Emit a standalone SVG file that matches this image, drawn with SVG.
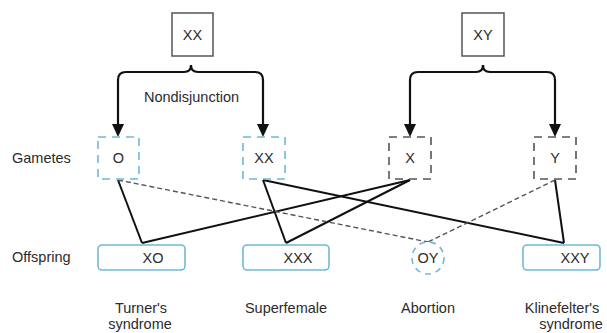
<svg xmlns="http://www.w3.org/2000/svg" width="607" height="333" viewBox="0 0 607 333">
  <style>
    text { font-family: "Liberation Sans", Arial, sans-serif; font-size: 14.5px; fill: #2b2b2b; }
    .mid { text-anchor: middle; }
    .parent { fill: #fff; stroke: #555; stroke-width: 1.5; }
    .gam-blue { fill: none; stroke: #6fb9d6; stroke-width: 1.6; stroke-dasharray: 8 6; }
    .gam-gray { fill: none; stroke: #555; stroke-width: 1.6; stroke-dasharray: 8 6; }
    .off { fill: #fff; stroke: #6fb9d6; stroke-width: 1.6; }
    .off-dash { fill: #fff; stroke: #6fb9d6; stroke-width: 1.6; stroke-dasharray: 6 5; }
    .brace { fill: none; stroke: #111; stroke-width: 2.2; stroke-linejoin: round; marker-end: url(#head); }
    .cross { fill: none; stroke: #111; stroke-width: 2; }
    .cross-dash { fill: none; stroke: #555; stroke-width: 1.4; stroke-dasharray: 5 3; }
  </style>
  <defs>
    <marker id="head" viewBox="0 0 13 12" refX="1" refY="6" markerWidth="13" markerHeight="12" markerUnits="userSpaceOnUse" orient="auto">
      <path d="M0,0 L13,6 L0,12 Z" fill="#111"/>
    </marker>
  </defs>

  <!-- row labels -->
  <text x="12" y="163">Gametes</text>
  <text x="12" y="262">Offspring</text>

  <!-- connectors -->
  <g id="connectors">
    <!-- meiosis brackets: each half of a brace runs from the parent down to one gamete -->
    <path class="brace" d="M191,65 Q191,72 184,72 H126 Q118,72 118,80 V125"/>
    <path class="brace" d="M191,65 Q191,72 198,72 H255 Q263,72 263,80 V125"/>
    <path class="brace" d="M483,65 Q483,72 476,72 H418 Q410,72 410,80 V125"/>
    <path class="brace" d="M483,65 Q483,72 490,72 H547 Q555,72 555,80 V125"/>

    <!-- fertilisation lines -->
    <line class="cross" x1="118" y1="180" x2="142" y2="243"/>
    <line class="cross" x1="410" y1="180" x2="142" y2="243"/>
    <line class="cross" x1="263" y1="180" x2="286" y2="243"/>
    <line class="cross" x1="410" y1="180" x2="286" y2="243"/>
    <line class="cross" x1="263" y1="180" x2="564" y2="243"/>
    <line class="cross" x1="555" y1="180" x2="564" y2="243"/>
    <line class="cross-dash" x1="118" y1="180" x2="428" y2="242"/>
    <line class="cross-dash" x1="555" y1="180" x2="428" y2="242"/>
  </g>

  <!-- parents -->
  <g id="parent-xx">
    <rect class="parent" x="172" y="13" width="41" height="43"/>
    <text class="mid" x="192.5" y="40">XX</text>
  </g>
  <g id="parent-xy">
    <rect class="parent" x="462" y="13" width="42" height="43"/>
    <text class="mid" x="483" y="40">XY</text>
  </g>
  <text class="mid" x="191.5" y="102">Nondisjunction</text>

  <!-- gametes -->
  <g id="gamete-o">
    <rect class="gam-blue" x="98" y="137" width="41" height="42"/>
    <text class="mid" x="118.5" y="163">O</text>
  </g>
  <g id="gamete-xx">
    <rect class="gam-blue" x="243" y="137" width="42" height="42"/>
    <text class="mid" x="264" y="163">XX</text>
  </g>
  <g id="gamete-x">
    <rect class="gam-gray" x="389" y="137" width="42" height="42"/>
    <text class="mid" x="410" y="163">X</text>
  </g>
  <g id="gamete-y">
    <rect class="gam-gray" x="534" y="137" width="42" height="42"/>
    <text class="mid" x="555" y="163">Y</text>
  </g>

  <!-- offspring -->
  <g id="offspring-xo">
    <rect class="off" x="98" y="245" width="87" height="25" rx="4"/>
    <text class="mid" x="153" y="263">XO</text>
    <text class="mid" x="141" y="313">Turner's</text>
    <text class="mid" x="140" y="329">syndrome</text>
  </g>
  <g id="offspring-xxx">
    <rect class="off" x="243" y="245" width="86" height="25" rx="4"/>
    <text class="mid" x="298" y="263">XXX</text>
    <text class="mid" x="286" y="313">Superfemale</text>
  </g>
  <g id="offspring-oy">
    <circle class="off-dash" cx="428" cy="258" r="16"/>
    <text class="mid" x="428" y="263">OY</text>
    <text class="mid" x="428" y="313">Abortion</text>
  </g>
  <g id="offspring-xxy">
    <rect class="off" x="523" y="245" width="77" height="25" rx="4"/>
    <text class="mid" x="575" y="263">XXY</text>
    <text class="mid" x="562" y="313">Klinefelter's</text>
    <text class="mid" x="571" y="329">syndrome</text>
  </g>
</svg>
